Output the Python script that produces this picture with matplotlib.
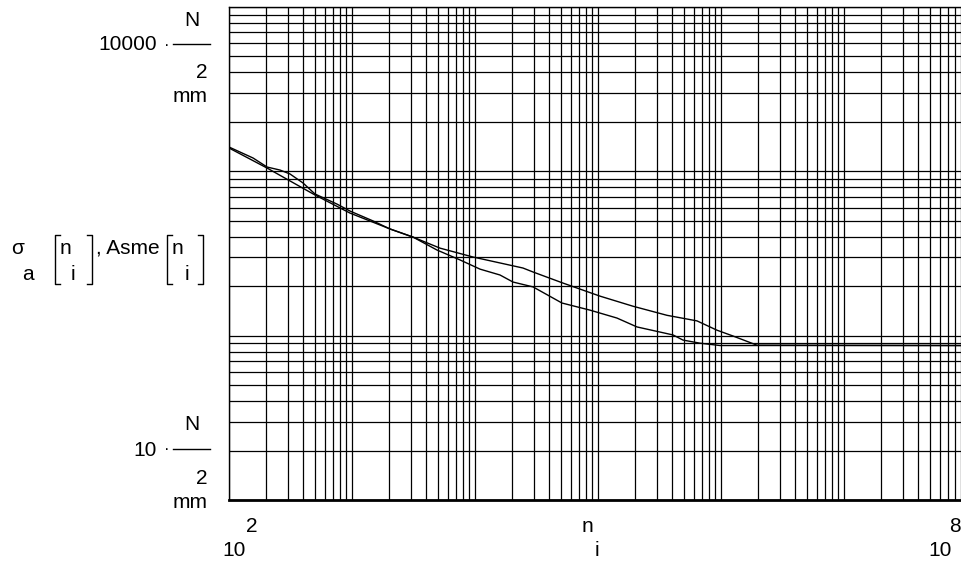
import numpy as np
import matplotlib
matplotlib.use('Agg')
import matplotlib.pyplot as plt
from matplotlib.ticker import LogLocator, NullFormatter
from matplotlib.lines import Line2D

plt.rcParams['font.family'] = ['Liberation Sans', 'DejaVu Sans']

# sigma_a curve
n_a = [1e2, 123, 157, 204, 260, 313, 400, 500, 755, 964, 1483, 2037, 3133, 5188,
       9638, 1.596e4, 2.455e4, 2.965e4, 5.188e4, 1.038e5, 1.928e5, 3.639e5,
       6.383e5, 9.268e5, 1.253e6, 1.963e6, 1e8]
sig_a = [1406, 1310, 1205, 1062, 1018, 964, 849, 728, 632, 573, 499, 446, 398, 341,
         301, 277, 258, 244, 209, 174, 151, 133, 123, 108, 99.5, 87.5, 87.1]

# Asme curve
n_b = [1e2, 204, 500, 964, 2037, 3133, 4909, 7551, 1.099e4, 1.596e4, 2.037e4,
       2.965e4, 5.093e4, 8.61e4, 1.426e5, 2.075e5, 4.074e5, 4.909e5, 6.745e5,
       9.817e5, 1e8]
sig_b = [1387, 1047, 718, 557, 446, 398, 332, 289, 254, 234, 212, 198, 158, 143,
         128, 113, 101, 94, 90, 87.1, 87.1]

W, H = 961, 564
fig = plt.figure(figsize=(W / 100, H / 100), dpi=100)
ax = fig.add_axes([229 / W, 1 - 500 / H, (967 - 229) / W, (500 - 7) / H])
ax.set_xscale('log')
ax.set_yscale('log')
ax.set_xlim(1e2, 1e8)
ax.set_ylim(10, 1e4)

for a in (ax.xaxis, ax.yaxis):
    a.set_major_locator(LogLocator(base=10, numticks=20))
    a.set_minor_locator(LogLocator(base=10, subs=np.arange(2, 10), numticks=200))
    a.set_major_formatter(NullFormatter())
    a.set_minor_formatter(NullFormatter())
ax.tick_params(which='both', length=0)
ax.grid(True, which='both', color='black', lw=0.9)
for s in ax.spines.values():
    s.set_color('black')
    s.set_linewidth(1.0)
ax.spines['bottom'].set_linewidth(2.0)

ax.plot(n_a, sig_a, color='black', lw=1.0)
ax.plot(n_b, sig_b, color='black', lw=1.0)

fs = 15


def t(px, py, s, ha='center', size=fs):
    fig.text(px / W, 1 - py / H, s, ha=ha, va='center', fontsize=size, color='black')


# y limit labels
for yl, val in [(44, '10000'), (449, '10')]:
    t(157, yl + 1, val, ha='right')
    t(167, yl + 1, '·', size=12)
    fig.add_artist(Line2D([173 / W, 210 / W], [1 - yl / H, 1 - yl / H], color='black', lw=1.0))
    t(192, yl - 24, 'N')
    t(202, yl + 29, '2')
    t(190, yl + 53, 'mm')

# y axis label
t(18, 248, 'σ')
t(28, 274, 'a')
t(65, 248, 'n')
t(73, 274, 'i')
t(96, 248, ', Asme', ha='left')
t(177, 248, 'n')
t(187, 274, 'i')


def bracket(x0, x1, left):
    ytop, ybot = 1 - 235 / H, 1 - 284 / H
    xv = x0 if left else x1
    xe = x1 if left else x0
    fig.add_artist(Line2D([xe / W, xv / W, xv / W, xe / W], [ytop, ytop, ybot, ybot],
                          color='black', lw=1.0))


bracket(55, 60, True)
bracket(87, 92, False)
bracket(167, 172, True)
bracket(198, 203, False)

# x labels
t(234, 550, '10')
t(252, 527, '2')
t(587, 527, 'n')
t(597, 550, 'i')
t(940, 550, '10')
t(955, 527, '8')

fig.savefig('out.png', dpi=100)
